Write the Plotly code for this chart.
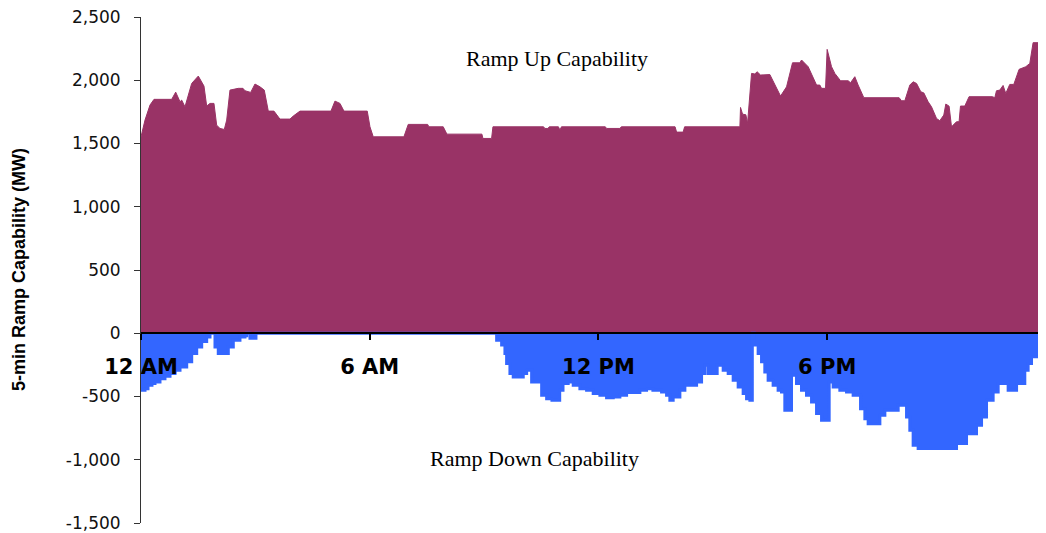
import plotly.graph_objects as go

# Ramp-up capability (MW) – time in hours since midnight
up_hours = [0, 0.105, 0.236, 0.341, 0.805, 0.910, 1.023, 1.067, 1.154, 1.330, 1.503, 1.652,
            1.723, 1.810, 1.914, 1.985, 2.072, 2.185, 2.248, 2.334, 2.552, 2.675, 2.728, 2.877,
            2.990, 3.121, 3.234, 3.339, 3.488, 3.645, 3.908, 3.994, 4.170, 4.983, 5.088, 5.219,
            5.324, 5.935, 6.006, 6.092, 6.897, 7.010, 7.519, 7.553, 7.928, 8.025, 8.943, 8.969,
            9.197, 9.232, 10.56, 10.595, 10.674, 10.71, 10.95, 10.989, 11.03, 12.18, 12.213,
            12.562, 12.60, 14.01, 14.049, 14.222, 14.26, 15.710, 15.727, 15.780, 15.867, 15.911,
            16.016, 16.103, 16.163, 16.252, 16.496, 16.627, 16.777, 16.934, 17.091, 17.283,
            17.328, 17.501, 17.721, 17.807, 17.852, 17.957, 17.999, 18.114, 18.201, 18.350,
            18.550, 18.613, 18.725, 18.812, 18.961, 19.887, 19.950, 20.037, 20.168, 20.254,
            20.344, 20.456, 20.535, 20.648, 20.737, 20.868, 20.954, 21.059, 21.112, 21.198,
            21.261, 21.392, 21.460, 21.497, 21.610, 21.722, 22.336, 22.397, 22.441, 22.528,
            22.614, 22.685, 22.790, 22.895, 23.034, 23.210, 23.315, 23.401, 23.734]
up_mw = [1553, 1685, 1804, 1849, 1849, 1906, 1830, 1843, 1790, 1975, 2033, 1954,
         1796, 1817, 1817, 1645, 1619, 1611, 1685, 1922, 1936, 1936, 1917, 1904,
         1970, 1948, 1922, 1756, 1756, 1693, 1693, 1717, 1756, 1756, 1835, 1817,
         1756, 1756, 1632, 1553, 1553, 1651, 1651, 1632, 1632, 1574, 1574, 1540,
         1540, 1632, 1632, 1619, 1619, 1632, 1632, 1606, 1632, 1632, 1619,
         1619, 1632, 1632, 1590, 1590, 1632, 1632, 1785, 1732, 1727, 1659,
         2054, 2050, 2067, 2041, 2045, 1962, 1875, 1948, 2138, 2138,
         2160, 2107, 1962, 1962, 1936, 1936, 2244, 2107, 2054, 1996,
         1996, 1980, 2028, 1962, 1862, 1862, 1838, 1838, 1962, 1988,
         1975, 1909, 1900, 1830, 1790, 1698, 1680, 1725, 1812, 1795,
         1632, 1672, 1672, 1796, 1796, 1870, 1870, 1862, 1917, 1922,
         1959, 1896, 1967, 1967, 2086, 2107, 2133, 2297, 2297]

# Ramp-down capability (MW), stepped
down_hours = [0, 0.105, 0.184, 0.288, 0.367, 0.498, 0.629, 0.761, 0.892, 1.023, 1.199, 1.330,
              1.461, 1.592, 1.723, 1.810, 1.941, 2.027, 2.290, 2.421, 2.596, 2.728, 2.772,
              2.858, 3.016, 9.329, 9.371, 9.460, 9.547, 9.591, 9.678, 9.764, 10.027, 10.116,
              10.247, 10.465, 10.510, 10.641, 10.780, 10.983, 11.070, 11.206, 11.338, 11.513,
              11.689, 11.862, 12.038, 12.213, 12.388, 12.562, 12.738, 13.087, 13.262, 13.428,
              13.656, 13.787, 13.873, 13.960, 14.136, 14.267, 14.574, 14.705, 14.792, 14.878,
              15.114, 15.272, 15.403, 15.534, 15.665, 15.796, 15.885, 15.972, 16.036, 16.088,
              16.189, 16.278, 16.364, 16.451, 16.582, 16.713, 16.802, 16.889, 17.064, 17.196,
              17.327, 17.458, 17.590, 17.721, 17.852, 18.052, 18.157, 18.332, 18.508, 18.681,
              18.875, 18.988, 19.075, 19.382, 19.513, 19.862, 20.082, 20.168, 20.255, 20.386,
              21.393, 21.655, 21.917, 22.049, 22.180, 22.353, 22.485, 22.747, 22.968, 23.184,
              23.271, 23.360, 23.578, 23.665, 23.734]
down_mw = [-451, -438, -411, -398, -385, -359, -340, -319, -293, -267, -225, -161,
           -108, -66, -29, 0, -108, -161, -108, -55, -29, -20, 0,
           -40, 0, -55, -55, -92, -161, -240, -319, -346, -319, -293,
           -385, -385, -490, -517, -530, -451, -398, -385, -411, -438,
           -451, -477, -490, -509, -503, -490, -469, -451, -438, -451,
           -464, -490, -530, -503, -451, -411, -385, -319, -253, -319,
           -253, -293, -319, -372, -425, -477, -517, -530, 0, -92,
           -161, -225, -306, -372, -411, -451, -464, -609, -332, -398,
           -451, -490, -543, -635, -688, -385, -425, -451, -464, -490,
           -596, -675, -715, -648, -609, -569, -662, -767, -886, -912,
           -872, -794, -728, -662, -530, -464, -398, -451, -398, -293,
           -240, -185, -119, -55, -30]

tick_hours = [0, 6, 12, 18]
tick_labels = ["12 AM", "6 AM", "12 PM", "6 PM"]
y_ticks = [-1500, -1000, -500, 0, 500, 1000, 1500, 2000, 2500]
y_tick_labels = ["-1,500", "-1,000", "-500", "0", "500", "1,000", "1,500", "2,000", "2,500"]

MAROON = "#993366"
BLUE = "#3366FF"

fig = go.Figure()
fig.add_trace(go.Scatter(x=up_hours, y=up_mw, mode="lines", fill="tozeroy",
                         line=dict(color=MAROON, width=1), fillcolor=MAROON,
                         hoverinfo="skip", showlegend=False))
fig.add_trace(go.Scatter(x=down_hours, y=down_mw, mode="lines", fill="tozeroy",
                         line=dict(color=BLUE, width=3, shape="hv"), fillcolor=BLUE,
                         hoverinfo="skip", showlegend=False))

serif = "Liberation Serif, Times New Roman, serif"
fig.add_annotation(x=10.91, y=2175, text="Ramp Up Capability", showarrow=False,
                   font=dict(family=serif, size=22, color="black"))
fig.add_annotation(x=10.33, y=-989, text="Ramp Down Capability", showarrow=False,
                   font=dict(family=serif, size=22, color="black"))
fig.add_annotation(xref="paper", yref="paper", x=-0.1348, y=0.5, textangle=-90,
                   xanchor="center", yanchor="middle",
                   text="5-min Ramp Capability (MW)", showarrow=False,
                   font=dict(family="Liberation Sans, Arial, sans-serif", size=18,
                             color="black", weight="bold"))

# page body has an 8px default margin, so the figure is sized to fit the window
fig.update_layout(
    width=1038, height=525,
    margin=dict(l=133, r=0, t=9, b=10, autoexpand=False),
    paper_bgcolor="white", plot_bgcolor="white",
    xaxis=dict(range=[0, 23.74], tickvals=tick_hours, ticktext=tick_labels,
               anchor="free", position=0.375, showline=True, linecolor="black", linewidth=2,
               ticks="outside", ticklen=6, tickwidth=2, tickcolor="black",
               tickfont=dict(family="DejaVu Sans, sans-serif", size=21, color="black",
                             weight="bold"),
               ticklabelstandoff=9, showgrid=False, zeroline=False, layer="above traces",
               automargin=False),
    yaxis=dict(range=[-1500, 2500], tickvals=y_ticks, ticktext=y_tick_labels,
               showline=True, linecolor="#333", linewidth=1,
               ticks="outside", ticklen=6, tickcolor="#333",
               tickfont=dict(family="DejaVu Sans, sans-serif", size=17, color="#111"),
               ticklabelstandoff=10, ticklabeloverflow="allow",
               showgrid=False, zeroline=False, automargin=False),
)

fig.write_html("out.html")
